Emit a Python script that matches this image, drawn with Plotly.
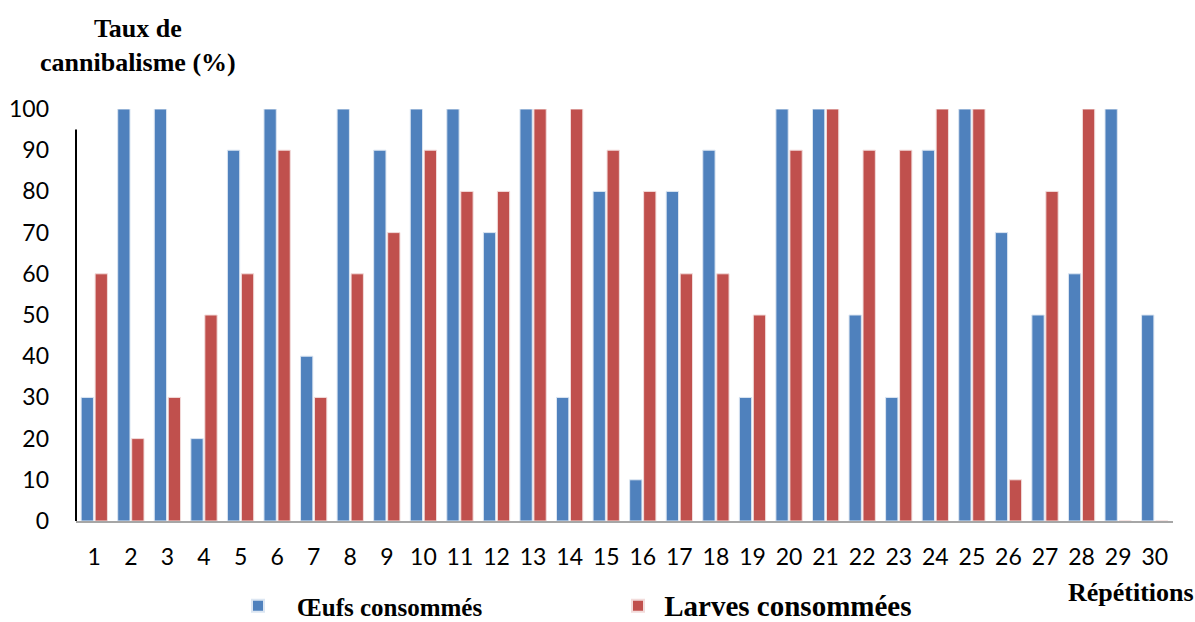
import plotly.graph_objects as go

repetitions = [str(i) for i in range(1, 31)]
oeufs = [30, 100, 100, 20, 90, 100, 40, 100, 90, 100,
         100, 70, 100, 30, 80, 10, 80, 90, 30, 100,
         100, 50, 30, 90, 100, 70, 50, 60, 100, 50]
larves = [60, 20, 30, 50, 60, 90, 30, 60, 70, 90,
          80, 80, 100, 100, 90, 80, 60, 60, 50, 90,
          100, 90, 90, 100, 100, 10, 80, 100, 0, 0]
y_ticks = list(range(0, 101, 10))

BLUE = "#4F81BD"
RED = "#C0504D"
SERIF = "Liberation Serif"
SANS = "Lato"

# plot area in pixels
L, R, T, B = 76, 1173, 109, 521
W, H = R - L, B - T


def px_x(x):
    return (x - L) / W


def px_y(y):
    return (B - y) / H


NB = "\u00a0"

fig = go.Figure()
fig.add_trace(go.Bar(
    x=repetitions, y=oeufs, name=NB * 3 + "Œufs consommés",
    marker=dict(color=BLUE, line=dict(color="#DCE6F2", width=1)),
))
fig.add_trace(go.Bar(
    x=repetitions, y=larves,
    name=NB + "<span style='font-size:29px'>Larves consommées</span>",
    marker=dict(color=RED, line=dict(color="#F2DCDB", width=1)),
))

# short vertical axis line on the left
fig.add_shape(type="line", xref="paper", yref="y", x0=0, x1=0, y0=0, y1=95,
              line=dict(color="black", width=2))

fig.add_annotation(text="<b>Taux de<br>cannibalisme (%)</b>", xref="paper", yref="paper",
                   x=px_x(138), y=px_y(46), showarrow=False,
                   font=dict(family=SERIF, size=26, color="black"), align="center",
                   xanchor="center", yanchor="middle")
fig.add_annotation(text="<b>Répétitions</b>", xref="paper", yref="paper",
                   x=px_x(1131), y=px_y(592), showarrow=False,
                   font=dict(family=SERIF, size=26, color="black"),
                   xanchor="center", yanchor="middle")

fig.update_layout(
    width=1195, height=622,
    margin=dict(l=L, r=1195 - R, t=T, b=622 - B, autoexpand=False),
    paper_bgcolor="white", plot_bgcolor="white",
    barmode="group", bargap=0.235, bargroupgap=0.12,
    xaxis=dict(
        type="category", showgrid=False, showline=True, linecolor="#A6A6A6", linewidth=2,
        ticks="", ticklabelstandoff=14,
        tickfont=dict(family=SANS, size=23, color="black"),
    ),
    yaxis=dict(
        range=[0, 100], tickvals=y_ticks, showgrid=False, showline=False, zeroline=False,
        ticks="", ticklabelstandoff=26,
        tickfont=dict(family=SANS, size=23, color="black"),
    ),
    legend=dict(
        orientation="h", x=px_x(238), y=px_y(606),
        xanchor="left", yanchor="middle",
        entrywidth=335, entrywidthmode="pixels",
        font=dict(family=SERIF, size=25, color="black", weight="bold"),
        itemsizing="constant",
    ),
    showlegend=True,
)

fig.write_html("out.html")
